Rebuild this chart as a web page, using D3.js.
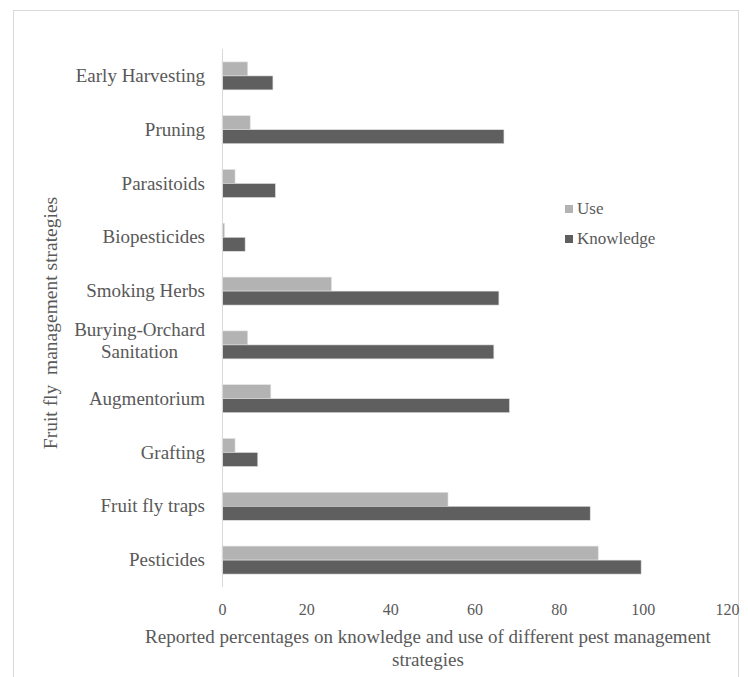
<!DOCTYPE html>
<html>
<head>
<meta charset="utf-8">
<script src="https://cdn.jsdelivr.net/npm/d3@7"></script>
<style>
  body { margin: 0; background: #fff; }
  svg { display: block; font-family: "Liberation Serif", "DejaVu Serif", serif; }
  svg text { font-family: "Liberation Serif", "DejaVu Serif", serif; }
</style>
</head>
<body>
<div id="chart"></div>
<script>
// Fruit fly management strategies — knowledge vs use (horizontal grouped bars)
const categories = [
  "Early Harvesting", "Pruning", "Parasitoids", "Biopesticides", "Smoking Herbs",
  "Burying-Orchard Sanitation", "Augmentorium", "Grafting", "Fruit fly traps", "Pesticides"
];
const useValues = [6.1, 6.7, 3.1, 0.6, 26.0, 6.1, 11.6, 3.1, 53.7, 89.4];
const knowledgeValues = [12.1, 67.0, 12.7, 5.5, 65.8, 64.6, 68.3, 8.5, 87.5, 99.6];
const seriesNames = ["Use", "Knowledge"];
const xTicks = [0, 20, 40, 60, 80, 100, 120];

const W = 748, H = 677;
const plot = { left: 222, right: 727, top: 49, bottom: 587 };
const colors = { Use: "#b3b3b3", Knowledge: "#5f5f5f" };
const textColor = "#595959";
const serif = "'Liberation Serif', 'DejaVu Serif', serif";

const svg = d3.select("#chart").append("svg")
  .attr("width", W).attr("height", H);

// outer frame
svg.append("rect")
  .attr("x", 13.5).attr("y", 10.5)
  .attr("width", 725).attr("height", 680)
  .attr("fill", "none").attr("stroke", "#d9d9d9").attr("stroke-width", 1);

const x = d3.scaleLinear().domain([0, 120]).range([plot.left, plot.right]);
const y = d3.scaleBand().domain(categories)
  .range([plot.top, plot.bottom])
  .paddingInner(0.48).paddingOuter(0.24);
const ySub = d3.scaleBand().domain(seriesNames).range([0, y.bandwidth()]);

const rows = categories.map((c, i) => ({
  cat: c, values: [
    { key: "Use", v: useValues[i] },
    { key: "Knowledge", v: knowledgeValues[i] }
  ]
}));

// bars
const groups = svg.append("g").selectAll("g").data(rows).join("g")
  .attr("transform", d => `translate(0,${y(d.cat)})`);
groups.selectAll("rect").data(d => d.values).join("rect")
  .attr("x", x(0))
  .attr("y", d => ySub(d.key))
  .attr("width", d => x(d.v) - x(0))
  .attr("height", ySub.bandwidth())
  .attr("fill", d => colors[d.key])
  .attr("stroke", "#e0e0e0")
  .attr("stroke-width", 0.6);

// vertical axis line
svg.append("line")
  .attr("x1", x(0) + 0.5).attr("x2", x(0) + 0.5)
  .attr("y1", plot.top).attr("y2", plot.bottom)
  .attr("stroke", "#d9d9d9").attr("stroke-width", 1);

// x tick labels via axis
const xAxis = svg.append("g")
  .attr("transform", `translate(0,${plot.bottom})`)
  .call(d3.axisBottom(x).tickValues(xTicks).tickSize(0).tickPadding(17));
xAxis.select(".domain").remove();
xAxis.attr("font-family", serif).attr("font-size", 16);
xAxis.selectAll("text")
  .attr("fill", textColor)
  .style("font-family", serif)
  .style("font-size", "16px");

// category labels (wrapped labels are centered, block right-aligned)
const labelRight = 205;
const labelSize = "19px";
const catLabels = svg.append("g");
categories.forEach(c => {
  const lines = c === "Burying-Orchard Sanitation" ? ["Burying-Orchard", "Sanitation"] : [c];
  const cy = y(c) + y.bandwidth() / 2;
  const t = catLabels.append("text")
    .attr("fill", textColor)
    .style("font-size", labelSize);
  if (lines.length === 1) {
    t.attr("x", labelRight).attr("y", cy + 6)
      .attr("text-anchor", "end").text(c);
  } else {
    // measure widest line
    const tmp = catLabels.append("text").style("font-size", labelSize).text(lines[0]);
    const wMax = tmp.node().getComputedTextLength();
    tmp.remove();
    const cx = labelRight - wMax / 2;
    lines.forEach((ln, k) => {
      t.append("tspan")
        .attr("x", cx)
        .attr("y", cy - 9 + k * 22)
        .attr("text-anchor", "middle")
        .text(ln);
    });
  }
});

// y axis title
svg.append("text")
  .attr("transform", "translate(57,323) rotate(-90)")
  .attr("text-anchor", "middle")
  .attr("fill", textColor)
  .style("font-size", "19.5px")
  .style("white-space", "pre")
  .text("Fruit fly  management strategies");

// x axis title
const xt = svg.append("text")
  .attr("text-anchor", "middle")
  .attr("fill", textColor)
  .style("font-size", "19px");
xt.append("tspan").attr("x", 428).attr("y", 643)
  .text("Reported percentages on knowledge and use of different pest management");
xt.append("tspan").attr("x", 428).attr("y", 666).text("strategies");

// legend
const legend = svg.append("g").attr("transform", "translate(565,201)");
seriesNames.forEach((s, i) => {
  const g = legend.append("g").attr("transform", `translate(0,${i * 30})`);
  g.append("rect").attr("width", 8).attr("height", 8).attr("y", 4)
    .attr("fill", colors[s]);
  g.append("text").attr("x", 12).attr("y", 13)
    .attr("fill", textColor).style("font-size", "17px").text(s);
});
</script>
</body>
</html>
